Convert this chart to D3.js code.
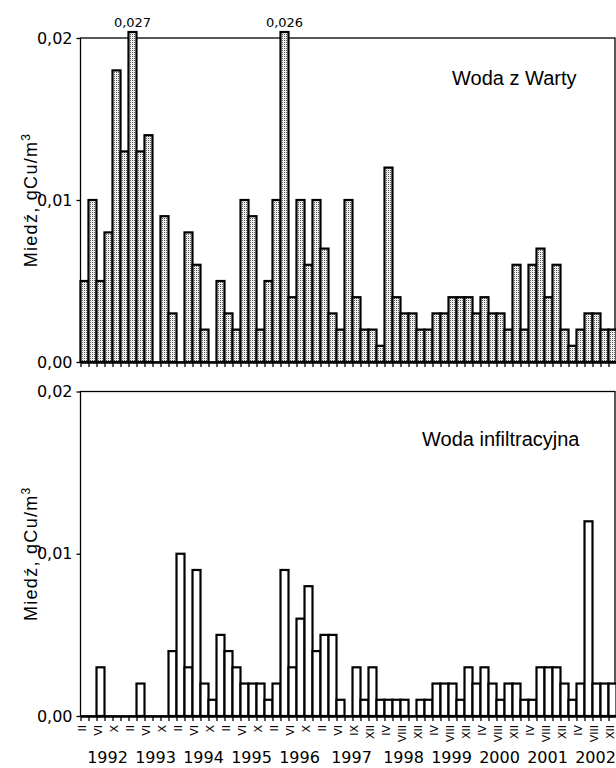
<!DOCTYPE html>
<html>
<head>
<meta charset="utf-8">
<script src="https://cdn.jsdelivr.net/npm/d3@7"></script>
<style>
  body { margin: 0; background: #fff; }
  svg { display: block; }
</style>
</head>
<body>
<svg id="chart"></svg>
<script>
// --- data ---
const years = ['1992', '1993', '1994', '1995', '1996', '1997', '1998', '1999', '2000', '2001', '2002'];
const samplesPerYear = [6, 6, 6, 6, 6, 7, 6, 6, 6, 6, 6];

// month label under each sample ('' = tick without label)
const monthLabels = [
  'II', '', 'VI', '', 'X', '',
  'II', '', 'VI', '', 'X', '',
  'II', '', 'VI', '', 'X', '',
  'II', '', 'VI', '', 'X', '',
  'II', '', 'VI', '', 'X', '',
  'II', '', 'VI', '', 'IX', '', 'XII',
  '', 'IV', '', 'VIII', '', 'XII',
  '', 'IV', '', 'VIII', '', 'XII',
  '', 'IV', '', 'VIII', '', 'XII',
  '', 'IV', '', 'VIII', '', 'XII',
  '', 'IV', '', 'VIII', '', 'XII'
];

// Woda z Warty, gCu/m3
const wartaValues = [
  0.005, 0.010, 0.005, 0.008, 0.018, 0.013,
  0.027, 0.013, 0.014, 0, 0.009, 0.003,
  0, 0.008, 0.006, 0.002, 0, 0.005,
  0.003, 0.002, 0.010, 0.009, 0.002, 0.005,
  0.010, 0.026, 0.004, 0.010, 0.006, 0.010,
  0.007, 0.003, 0.002, 0.010, 0.004, 0.002, 0.002,
  0.001, 0.012, 0.004, 0.003, 0.003, 0.002,
  0.002, 0.003, 0.003, 0.004, 0.004, 0.004,
  0.003, 0.004, 0.003, 0.003, 0.002, 0.006,
  0.002, 0.006, 0.007, 0.004, 0.006, 0.002,
  0.001, 0.002, 0.003, 0.003, 0.002, 0.002
];

// Woda infiltracyjna, gCu/m3
const infiltrationValues = [
  0, 0, 0.003, 0, 0, 0,
  0, 0.002, 0, 0, 0, 0.004,
  0.010, 0.003, 0.009, 0.002, 0.001, 0.005,
  0.004, 0.003, 0.002, 0.002, 0.002, 0.001,
  0.002, 0.009, 0.003, 0.006, 0.008, 0.004,
  0.005, 0.005, 0.001, 0, 0.003, 0.001, 0.003,
  0.001, 0.001, 0.001, 0.001, 0, 0.001,
  0.001, 0.002, 0.002, 0.002, 0.001, 0.003,
  0.002, 0.003, 0.002, 0.001, 0.002, 0.002,
  0.001, 0.001, 0.003, 0.003, 0.003, 0.002,
  0.001, 0.002, 0.012, 0.002, 0.002, 0.002
];

const yTicks = [0, 0.01, 0.02];
const yMax = 0.02;

// --- layout ---
const width = 616, height = 768;
const plotLeft = 80.5, plotRight = 616.5, frameRight = 615;
const numFont = 'DejaVu Sans, sans-serif';
const textFont = 'Liberation Sans, Arial, sans-serif';

const svg = d3.select('#chart')
    .attr('width', width)
    .attr('height', height)
    .style('background-color', '#fff');

// dotted grey fill like the printed screen
const pat = svg.append('defs').append('pattern')
    .attr('id', 'dots')
    .attr('width', 2).attr('height', 2)
    .attr('patternUnits', 'userSpaceOnUse');
pat.append('rect').attr('width', 2).attr('height', 2).attr('fill', '#fff');
pat.append('rect').attr('width', 1).attr('height', 1).attr('fill', '#555');
pat.append('rect').attr('x', 1).attr('y', 1).attr('width', 1).attr('height', 1).attr('fill', '#ddd');

const n = wartaValues.length;
const x = d3.scaleBand().domain(d3.range(n)).range([plotLeft, plotRight]).padding(0);
const xEdge = d3.scaleLinear().domain([0, n]).range([plotLeft, plotRight]);

const fmtAxis = d => d3.format('.2f')(d).replace('.', ',');
const fmtPeak = d => d3.format('.3f')(d).replace('.', ',');

function drawPanel(cfg) {
  const g = svg.append('g');
  const y = d3.scaleLinear().domain([0, yMax]).range([cfg.bottom, cfg.top]);

  // frame
  g.append('rect')
      .attr('x', plotLeft).attr('y', cfg.top)
      .attr('width', frameRight - plotLeft).attr('height', cfg.bottom - cfg.top)
      .attr('fill', 'none').attr('stroke', '#000').attr('stroke-width', 1.3);

  // bars (values above 0.02 run slightly past the frame)
  const barTop = v => v > yMax ? y(yMax) - 6 : y(v);
  const data = cfg.values.map((v, i) => ({ i, v })).filter(d => d.v > 0);
  g.selectAll('rect.bar')
    .data(data)
    .join('rect')
      .attr('class', 'bar')
      .attr('x', d => x(d.i))
      .attr('width', x.bandwidth())
      .attr('y', d => barTop(d.v))
      .attr('height', d => cfg.bottom - barTop(d.v))
      .attr('fill', cfg.fill)
      .attr('stroke', '#000')
      .attr('stroke-width', 2.2);

  g.selectAll('text.peak')
    .data(data.filter(d => d.v > yMax))
    .join('text')
      .attr('class', 'peak')
      .attr('x', d => x(d.i) + x.bandwidth() / 2)
      .attr('y', y(yMax) - 11)
      .attr('text-anchor', 'middle')
      .style('font-family', numFont)
      .style('font-size', '13px')
      .text(d => fmtPeak(d.v));

  // y axis
  const yAxisG = g.append('g')
      .attr('transform', `translate(${plotLeft},0)`)
      .call(d3.axisLeft(y).tickValues(yTicks).tickSize(4).tickPadding(4).tickFormat(fmtAxis));
  yAxisG.select('.domain').remove();
  yAxisG.selectAll('line').attr('stroke-width', 1.3);
  yAxisG.selectAll('text')
      .style('font-family', numFont)
      .style('font-size', '16px')
      .attr('fill', '#000');

  // x axis: ticks on sample boundaries
  const xAxisG = g.append('g')
      .attr('transform', `translate(0,${cfg.bottom})`)
      .call(d3.axisBottom(xEdge).tickValues(d3.range(n + 1)).tickSize(5).tickSizeOuter(0).tickFormat(''));
  xAxisG.select('.domain').attr('stroke-width', 2.5);
  xAxisG.selectAll('line').attr('stroke-width', 1.3);

  if (cfg.showLabels) {
    const mG = g.append('g')
        .attr('transform', `translate(0,${cfg.bottom})`)
        .call(d3.axisBottom(x).tickSize(0).tickFormat(i => monthLabels[i]));
    mG.select('.domain').remove();
    mG.selectAll('text')
        .attr('transform', 'rotate(-90)')
        .attr('text-anchor', 'end')
        .attr('x', -9)
        .attr('y', 0)
        .attr('dy', '0.15em')
        .style('font-family', numFont)
        .style('font-size', '11px')
        .attr('fill', '#000');

    // year labels centred on each year's samples
    let start = 0;
    const yearPos = years.map((yr, k) => {
      const c = (xEdge(start) + xEdge(start + samplesPerYear[k])) / 2;
      start += samplesPerYear[k];
      return { yr, c };
    });
    g.selectAll('text.year')
      .data(yearPos)
      .join('text')
        .attr('class', 'year')
        .attr('x', d => d.c + 3)
        .attr('y', cfg.bottom + 47)
        .attr('text-anchor', 'middle')
        .style('font-family', numFont)
        .style('font-size', '16px')
        .text(d => d.yr);
  }

  // y axis title
  const yt = g.append('text')
      .attr('transform', `translate(37,${y(0.01)}) rotate(-90)`)
      .attr('text-anchor', 'middle')
      .style('font-family', textFont)
      .style('font-size', '18px')
      .style('letter-spacing', '1.3px');
  yt.append('tspan').text('Miedź, gCu/m');
  yt.append('tspan').attr('dy', -7).style('font-size', '12px').text('3');

  // panel title
  g.append('text')
      .attr('x', cfg.titleX)
      .attr('y', cfg.titleY)
      .style('font-family', textFont)
      .style('font-size', '20px')
      .text(cfg.title);
}

drawPanel({
  top: 38, bottom: 362,
  values: wartaValues,
  fill: 'url(#dots)',
  title: 'Woda z Warty', titleX: 452, titleY: 85,
  showLabels: false
});

drawPanel({
  top: 391.5, bottom: 716,
  values: infiltrationValues,
  fill: '#fff',
  title: 'Woda infiltracyjna', titleX: 422, titleY: 446,
  showLabels: true
});
</script>
</body>
</html>
